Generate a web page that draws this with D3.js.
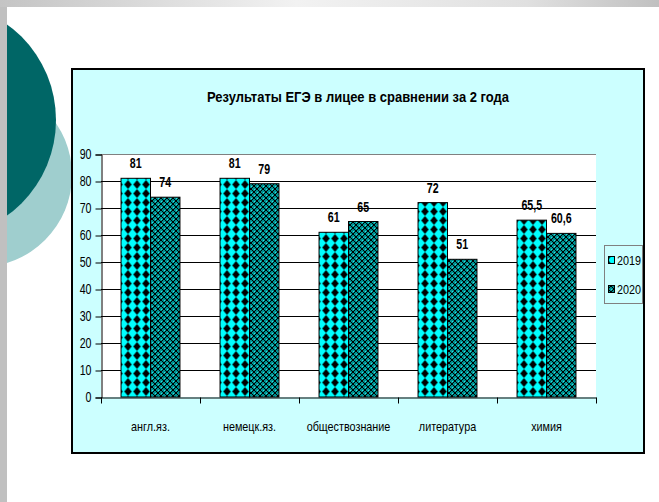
<!DOCTYPE html>
<html>
<head>
<meta charset="utf-8">
<script src="https://cdn.jsdelivr.net/npm/d3@7"></script>
<style>
  body { margin: 0; background: white; }
  svg { display: block; }
  text { font-family: "Liberation Sans", Arial, sans-serif; }
</style>
</head>
<body>
<script>
var categories = ["англ.яз.", "немецк.яз.", "обществознание", "литература", "химия"];
var years = ["2019", "2020"];
var values2019 = [81, 81, 61, 72, 65.5];
var values2020 = [74, 79, 65, 51, 60.6];
var valueLabels2019 = ["81", "81", "61", "72", "65,5"];
var valueLabels2020 = ["74", "79", "65", "51", "60,6"];
var yTicks = [0, 10, 20, 30, 40, 50, 60, 70, 80, 90];
var title = "Результаты ЕГЭ в лицее в сравнении за 2 года";

var W = 659, H = 502;
var svg = d3.select("body").append("svg")
  .attr("width", W)
  .attr("height", H);

var defs = svg.append("defs");

// squeeze text horizontally, the original uses a narrow face
function condense(sel, k) {
  sel.each(function() {
    var w = this.getComputedTextLength();
    d3.select(this)
      .attr("textLength", w * k)
      .attr("lengthAdjust", "spacingAndGlyphs");
  });
} // condense

// slide background decoration
var grad = defs.append("linearGradient").attr("id", "topband");
grad.append("stop").attr("offset", "0%").attr("stop-color", "#c4c4c4");
grad.append("stop").attr("offset", "45%").attr("stop-color", "#f2f2f2");
grad.append("stop").attr("offset", "80%").attr("stop-color", "#e0e0e0");
grad.append("stop").attr("offset", "100%").attr("stop-color", "#c0c0c0");

svg.append("circle").attr("cx", -20).attr("cy", 175).attr("r", 92).attr("fill", "#9fcece");
svg.append("circle").attr("cx", -62).attr("cy", 120).attr("r", 118).attr("fill", "#006666");
svg.append("rect").attr("x", 0).attr("y", 0).attr("width", W).attr("height", 7).attr("fill", "url(#topband)");
svg.append("rect").attr("x", 0).attr("y", 7).attr("width", 7).attr("height", H - 7).attr("fill", "#c0c0c0");

// patterns for the two series
function addDiamondPattern() {
  var p = defs.append("pattern")
    .attr("id", "pat2019")
    .attr("patternUnits", "userSpaceOnUse")
    .attr("x", 121.5).attr("y", 0)
    .attr("width", 9).attr("height", 9);
  p.append("rect").attr("width", 9).attr("height", 9).attr("fill", "#00ffff");
  p.append("path").attr("d", "M4.5,0L8.2,4.5L4.5,9L0.8,4.5Z").attr("fill", "black");
} // addDiamondPattern

function addTrellisPattern() {
  var s = 6;
  var p = defs.append("pattern")
    .attr("id", "pat2020")
    .attr("patternUnits", "userSpaceOnUse")
    .attr("width", s).attr("height", s);
  p.append("rect").attr("width", s).attr("height", s).attr("fill", "#009090");
  var dots = [];
  for(var i = 0; i < s; i += 1) {
    dots.push([i, i]);
    dots.push([i, s - 1 - i]);
  }
  p.selectAll(".px").data(dots).join("rect")
    .attr("class", "px")
    .attr("x", (d) => d[0]).attr("y", (d) => d[1])
    .attr("width", 1).attr("height", 1)
    .attr("fill", "black");
  p.append("rect").attr("x", 0).attr("y", 3).attr("width", 1).attr("height", 1).attr("fill", "#30e0e0");
  p.append("rect").attr("x", 3).attr("y", 0).attr("width", 1).attr("height", 1).attr("fill", "#30e0e0");
} // addTrellisPattern

addDiamondPattern();
addTrellisPattern();
var fills = { "2019": "url(#pat2019)", "2020": "url(#pat2020)" };

// chart frame
svg.append("rect")
  .attr("x", 72).attr("y", 69)
  .attr("width", 572).attr("height", 384)
  .attr("fill", "#ccffff")
  .attr("stroke", "black")
  .attr("stroke-width", 2);

svg.append("text")
  .attr("x", 358).attr("y", 102)
  .attr("text-anchor", "middle")
  .attr("font-size", 15)
  .attr("font-weight", "bold")
  .attr("textLength", 302)
  .attr("lengthAdjust", "spacingAndGlyphs")
  .text(title);

var plot = { left: 101, right: 596, top: 154, bottom: 397 };

var x = d3.scaleBand()
  .domain(categories)
  .range([plot.left, plot.right]);
var xInner = d3.scaleBand()
  .domain(years)
  .range([0, x.bandwidth()])
  .paddingOuter(0.68);
var y = d3.scaleLinear()
  .domain([0, 90])
  .range([plot.bottom, plot.top]);

svg.append("rect")
  .attr("x", plot.left).attr("y", plot.top)
  .attr("width", plot.right - plot.left)
  .attr("height", plot.bottom - plot.top)
  .attr("fill", "white");

// gridlines
svg.append("g").selectAll("line")
  .data(yTicks.filter((t) => t > 0))
  .join("line")
  .attr("x1", plot.left).attr("x2", plot.right)
  .attr("y1", (d) => y(d) + 0.5).attr("y2", (d) => y(d) + 0.5)
  .attr("stroke", (d) => d === 90 ? "#808080" : "#000")
  .attr("stroke-width", 1);

// bars
var rows = categories.map((c, i) => ({
  cat: c,
  vals: [
    { year: "2019", v: values2019[i], label: valueLabels2019[i] },
    { year: "2020", v: values2020[i], label: valueLabels2020[i] },
  ],
}));

var groups = svg.append("g").selectAll("g")
  .data(rows)
  .join("g")
  .attr("transform", (d) => "translate(" + x(d.cat) + ",0)");

groups.selectAll("rect")
  .data((d) => d.vals)
  .join("rect")
  .attr("x", (d) => xInner(d.year))
  .attr("y", (d) => y(d.v))
  .attr("width", xInner.bandwidth())
  .attr("height", (d) => y(0) - y(d.v))
  .attr("fill", (d) => fills[d.year])
  .attr("stroke", "black")
  .attr("stroke-width", 1);

var valueText = groups.selectAll("text")
  .data((d) => d.vals)
  .join("text")
  .attr("x", (d) => xInner(d.year) + xInner.bandwidth() / 2)
  .attr("y", (d) => y(d.v) - 10)
  .attr("text-anchor", "middle")
  .attr("font-size", 14)
  .attr("font-weight", "bold")
  .text((d) => d.label);
condense(valueText, 0.76);

// y axis
var yAxis = svg.append("g")
  .attr("transform", "translate(" + (plot.left + 0.5) + ",0.5)")
  .call(d3.axisLeft(y).tickValues(yTicks).tickSize(6).tickPadding(4));
yAxis.select(".domain").attr("stroke", "black");
yAxis.selectAll(".tick line").attr("stroke", "black");
yAxis.selectAll("text")
  .attr("font-size", 14)
  .attr("font-family", null)
  .attr("fill", "black");
condense(yAxis.selectAll("text"), 0.76);

// x axis
var xAxis = svg.append("g")
  .attr("transform", "translate(0," + (plot.bottom + 0.5) + ")")
  .call(d3.axisBottom(x).tickSize(0).tickPadding(24).tickSizeOuter(0));
xAxis.select(".domain").attr("stroke", "black");
xAxis.selectAll("text")
  .attr("font-size", 13.5)
  .attr("font-family", null)
  .attr("fill", "black");
condense(xAxis.selectAll("text"), 0.8);
xAxis.selectAll(".boundary")
  .data(categories.map((c) => x(c)).concat([plot.right]))
  .join("line")
  .attr("class", "boundary")
  .attr("x1", (d) => d + 0.5).attr("x2", (d) => d + 0.5)
  .attr("y1", 0).attr("y2", 6)
  .attr("stroke", "black");

// legend
var legend = svg.append("g").attr("transform", "translate(604,245)");
legend.append("rect")
  .attr("x", 0.5).attr("y", 0.5)
  .attr("width", 38).attr("height", 58)
  .attr("fill", "#ccffff")
  .attr("stroke", "#808080");
var items = legend.selectAll(".item")
  .data(years)
  .join("g")
  .attr("class", "item")
  .attr("transform", (d, i) => "translate(4," + (15 + i * 29) + ")");
items.append("rect")
  .attr("x", 0.5).attr("y", -3.5)
  .attr("width", 6).attr("height", 7)
  .attr("fill", (d) => fills[d])
  .attr("stroke", "black");
var legendText = items.append("text")
  .attr("x", 9).attr("y", 5)
  .attr("font-size", 13.5)
  .text((d) => d);
condense(legendText, 0.8);
</script>
</body>
</html>
